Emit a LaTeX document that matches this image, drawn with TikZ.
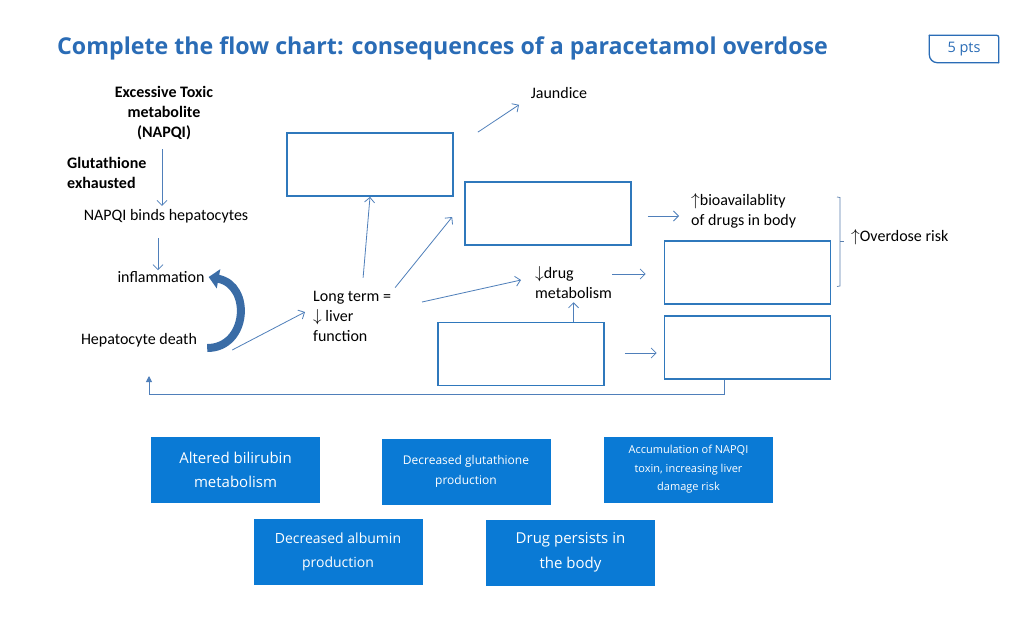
\documentclass[tikz,border=0pt]{standalone}
\usepackage{fontspec}
\setmainfont{Carlito}
\newfontfamily\osans{Open Sans}
\usetikzlibrary{arrows.meta,calc}
\definecolor{arrowc}{HTML}{4F7FBA}
\definecolor{boxc}{HTML}{2F78BC}
\definecolor{choicec}{HTML}{0A7AD5}
\definecolor{titlec}{HTML}{2A6CB6}
\definecolor{curvc}{HTML}{3A6CA6}
\begin{document}
\begin{tikzpicture}[x=1pt,y=-1pt,
  txt/.style={inner sep=1pt,font=\fontsize{16}{20}\selectfont,text=black},
  btxt/.style={txt,font=\fontsize{16}{20}\selectfont\bfseries},
  arr/.style={draw=arrowc,line width=0.8pt,-{Straight Barb[length=5pt,width=10pt]}},
  blank/.style={draw=boxc,line width=1.7pt,minimum width=166pt,minimum height=63pt,inner sep=0pt},
  choice/.style={fill=choicec,text=white,minimum width=169pt,minimum height=66pt,inner sep=0pt,align=center}]
\useasboundingbox (0,0) rectangle (1024,627);
\fill[white] (0,0) rectangle (1024,627);
% title
\node[anchor=west,inner sep=0pt,text=titlec,font=\osans\bfseries\fontsize{23.2}{26}\selectfont] (title) at (57,48) {Complete the flow chart: consequences of a paracetamol overdose};
\node[minimum width=69pt,minimum height=27pt,inner sep=0pt,text=titlec,font=\osans\fontsize{14.5}{16}\selectfont] (pts) at (964,49) {5 pts};
\draw[draw=titlec,line width=1.3pt,line cap=round,rounded corners=8pt] (pts.south east) -- (pts.south west) -- (pts.north west);
\draw[draw=titlec,line width=1.3pt,line cap=round,rounded corners=2pt] (pts.north west) -- (pts.north east) -- (pts.south east);
% left column
\node[btxt,align=center] (ex) at (164,113) {Excessive Toxic\\metabolite\\(NAPQI)};
\node[btxt,align=left,anchor=west] (glu) at (66,173) {Glutathione\\exhausted};
\node[txt] (nb) at (166,216) {NAPQI binds hepatocytes};
\node[txt] (inf) at (161,277) {inflammation};
\node[txt] (hd) at (139,340) {Hepatocyte death};
\node[txt,align=left,anchor=west] (lt) at (312,316) {Long term =\\$\downarrow$ liver\\function};
\node[txt] (jd) at (559,93) {Jaundice};
\node[txt,align=left,anchor=west] (dm) at (534,283) {$\downarrow$drug\\metabolism};
\node[txt,align=left,anchor=west] (bio) at (690,211) {$\uparrow$bioavailablity\\of drugs in body};
\node[txt,anchor=west] (od) at (850,237) {$\uparrow$Overdose risk};
% blank boxes
\node[blank] (b1) at (370,164.5) {};
\node[blank] (b2) at (548,213.5) {};
\node[blank] (b3) at (521,354) {};
\node[blank] (b4) at (747.5,272.5) {};
\node[blank] (b5) at (747.5,347.5) {};
% answer choices
\node[choice,font=\osans\fontsize{15}{24}\selectfont] (c1) at (235.5,470) {Altered bilirubin\\metabolism};
\node[choice,font=\osans\fontsize{12}{20}\selectfont] (c2) at (466,471.5) {Decreased glutathione\\production};
\node[choice,font=\osans\fontsize{11}{18.5}\selectfont] (c3) at (688.5,469.5) {Accumulation of NAPQI\\toxin, increasing liver\\damage risk};
\node[choice,font=\osans\fontsize{14}{24}\selectfont] (c4) at (338,551.5) {Decreased albumin\\production};
\node[choice,font=\osans\fontsize{15}{25}\selectfont] (c5) at (570.5,552.5) {Drug persists in\\the body};
% connectors
\draw[arr] ([xshift=-2pt,yshift=-8pt]ex.south) -- ([xshift=-4pt,yshift=2pt]nb.north);
\draw[arr] ([xshift=-8pt,yshift=-14pt]nb.south) -- ([xshift=-3pt,yshift=0pt]inf.north);
\draw[draw=curvc,line width=8pt,-{Triangle[length=10pt,width=19pt]}] ([xshift=9pt,yshift=-8pt]hd.east) .. controls (248,348) and (252,285) .. ([xshift=3pt]inf.east);
\draw[arr] ([xshift=34pt,yshift=-10pt]hd.east) -- ([xshift=-7pt,yshift=4pt]lt.west);
\draw[arr] ([xshift=11pt,yshift=12pt]lt.north) -- (b1.south);
\draw[arr] ([xshift=43pt,yshift=2pt]lt.north) -- ([xshift=-12pt,yshift=-3.5pt]b2.west);
\draw[arr] ([xshift=24pt,yshift=0pt]b1.north east) -- ([xshift=-40pt,yshift=-5pt]jd.south);
\draw[arr] ([xshift=110pt,yshift=14pt]lt.west) -- ([xshift=-13pt,yshift=3pt]dm.west);
\draw[arr] (b3.north -| dm.south) -- ([yshift=-2pt]dm.south);
\draw[arr] ([xshift=16pt,yshift=-2.5pt]b2.east) -- ([xshift=-11pt,yshift=-2.5pt]bio.west |- b2.east);
\draw[arr] ([xshift=-1pt,yshift=9pt]dm.east) -- ([xshift=-18pt,yshift=-1.5pt]b4.west);
\draw[arr] ([xshift=20pt,yshift=1pt]b3.east) -- ([xshift=-7pt,yshift=-5.5pt]b5.west);
\coordinate (fbtip) at (149,376);
\draw[draw=arrowc,line width=0.9pt,-{Triangle[length=6pt,width=6pt]}] ([xshift=-23.5pt]b5.south) -- ++(0,15) -| (fbtip);
% bracket
\draw[draw=arrowc!80!gray,line width=0.7pt] ([xshift=-13pt,yshift=40pt]od.west) -- ++(3,0.5) -- ([xshift=-10pt,yshift=-49pt]od.west) -- ++(-3,0.5);
\draw[draw=arrowc!80!gray,line width=0.7pt] ([xshift=-10pt,yshift=-4pt]od.west) -- ++(4,0);
\end{tikzpicture}
\end{document}
